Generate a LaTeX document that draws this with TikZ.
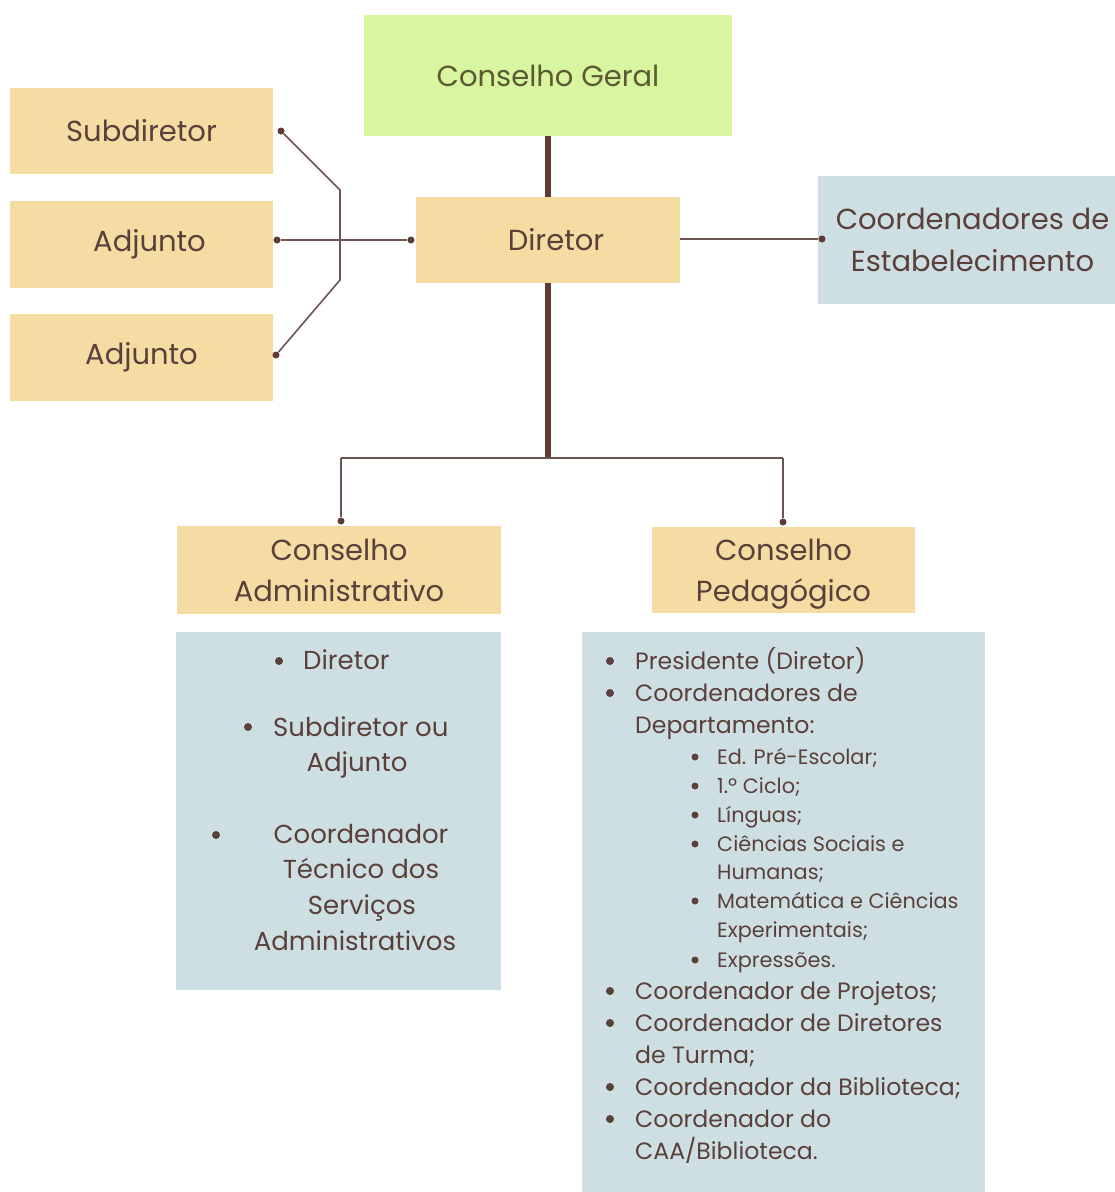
\documentclass[tikz,border=0pt]{standalone}
\usepackage{fontspec}
\setmainfont{Poppins}
\definecolor{tan}{HTML}{F5DCA3}
\definecolor{lgreen}{HTML}{D8F5A0}
\definecolor{lblue}{HTML}{CEDFE3}
\definecolor{thickc}{HTML}{5F3B33}
\definecolor{thinc}{HTML}{6B5552}
\definecolor{txt}{HTML}{5A403B}
\definecolor{gtxt}{HTML}{5C5A33}
\newcommand{\fs}[1]{\fontsize{#1pt}{1.2\dimexpr#1pt\relax}\selectfont}
\begin{document}
\begin{tikzpicture}[x=1pt,y=-1pt,
  box/.style={rectangle,inner sep=0pt,text=txt,align=center},
  tanbox/.style={box,fill=tan},
  bluebox/.style={box,fill=lblue},
  lst/.style={anchor=base west,inner sep=0pt,text=txt,font=\fs{23.6}},
  sub/.style={anchor=base west,inner sep=0pt,text=txt,font=\fs{20.8}},
  lft/.style={anchor=base,inner sep=0pt,text=txt,font=\fs{26}},
  bul/.style={circle,fill=txt,inner sep=0pt,minimum size=8pt},
  sbul/.style={circle,fill=txt,inner sep=0pt,minimum size=7pt},
  thickline/.style={draw=thickc,line width=6pt},
  thinline/.style={draw=thinc,line width=1.6pt},
  dot/.style={circle,fill=thickc,inner sep=0pt,minimum size=7pt}]
\useasboundingbox (0,0) rectangle (1115,1192);
\fill[white] (0,0) rectangle (1115,1192);
% boxes
\node[box,fill=lgreen,minimum width=368,minimum height=121,text=gtxt,font=\fs{29}] (cg) at (548,75.5) {Conselho Geral};
\node[tanbox,minimum width=264,minimum height=86,font=\fs{29}] (dir) at (548,240) {\hspace*{16pt}Diretor};
\node[tanbox,minimum width=263,minimum height=86,font=\fs{29}] (sub) at (141.5,131) {Subdiretor};
\node[tanbox,minimum width=263,minimum height=87,font=\fs{29}] (adj1) at (141.5,244.5) {\hspace*{16pt}Adjunto};
\node[tanbox,minimum width=263,minimum height=87,font=\fs{29}] (adj2) at (141.5,357.5) {Adjunto};
\node[bluebox,minimum width=297,minimum height=128,font=\fontsize{29pt}{42pt}\selectfont] (coord) at (966.5,240) {\hspace*{12pt}Coordenadores de\\\hspace*{12pt}Estabelecimento};
\node[tanbox,minimum width=324,minimum height=88,font=\fontsize{29pt}{41pt}\selectfont] (cadm) at (339,570) {Conselho\\Administrativo};
\node[tanbox,minimum width=263,minimum height=86] (cped) at (783.5,570) {};
\node[box,font=\fontsize{29pt}{41pt}\selectfont,yshift=-4pt] (cpedt) at (cped.center) {Conselho\\Pedagógico};
\node[bluebox,minimum width=325,minimum height=358] (bl) at (338.5,811) {};
\node[bluebox,minimum width=403,minimum height=560] (br) at (783.5,912) {};
% top connectors
\draw[thickline] (cg.south) -- (dir.north);
\coordinate (jn) at (548,458);
\draw[thickline] (dir.south) -- (jn);
\coordinate (jl) at (341,458);
\coordinate (jr) at (783,458);
\node[dot] (dadm) at (341,521) {};
\node[dot] (dped) at (783,522) {};
\draw[thinline] (jl) -- (jr);
\draw[thinline] (jl) -- (dadm);
\draw[thinline] (jr) -- (dped);
% right connector
\node[dot] (dcoord) at (822,239) {};
\draw[thinline] (dir.east |- dcoord) -- (dcoord);
% left connectors
\node[dot] (dsub) at (281,131) {};
\node[dot] (dadj1) at (277,240) {};
\node[dot] (dadj2) at (276,355) {};
\node[dot] (ddir) at (411,240) {};
\coordinate (kt) at (340,190);
\coordinate (kb) at (340,280);
\draw[thinline] (dsub) -- (kt) -- (kb) -- (dadj2);
\draw[thinline] (dadj1) -- (ddir);
% left list
\node[bul] (lb1) at (279,661) {};
\node[lst,font=\fs{26}] (l1) at (303,669) {Diretor};
\node[bul] (lb2) at (248,727) {};
\node[lst,font=\fs{26}] (l2) at (273,736) {Subdiretor ou};
\node[lft] (l3) at (357,771) {Adjunto};
\node[bul] (lb3) at (216,835) {};
\node[lft] (l4) at (361,843) {Coordenador};
\node[lft] (l5) at (361,878) {Técnico dos};
\node[lft] (l6) at (362,914) {Serviços};
\node[lft] (l7) at (355,950) {Administrativos};
% right list
\foreach \y in {661,693,991,1023,1087,1119}{
  \node[bul] at (610,\y) {};
}
\node[lst] (r1) at (635,669) {Presidente (Diretor)};
\node[lst] (r2) at (635,701) {Coordenadores de};
\node[lst] (r3) at (635,733) {Departamento:};
\foreach \y in {757,786,815,844,901,960}{
  \node[sbul] at (695,\y) {};
}
\node[sub] (s1) at (717,764) {Ed. Pré-Escolar;};
\node[sub] (s2) at (717,793) {1.º Ciclo;};
\node[sub] (s3) at (717,822) {Línguas;};
\node[sub] (s4) at (717,851) {Ciências Sociais e};
\node[sub] (s5) at (717,879) {Humanas;};
\node[sub] (s6) at (717,908) {Matemática e Ciências};
\node[sub] (s7) at (717,937) {Experimentais;};
\node[sub] (s8) at (717,967) {Expressões.};
\node[lst] (r4) at (635,999) {Coordenador de Projetos;};
\node[lst] (r5) at (635,1031) {Coordenador de Diretores};
\node[lst] (r6) at (635,1063) {de Turma;};
\node[lst] (r7) at (635,1095) {Coordenador da Biblioteca;};
\node[lst] (r8) at (635,1127) {Coordenador do};
\node[lst] (r9) at (635,1159) {CAA/Biblioteca.};
\end{tikzpicture}
\end{document}
